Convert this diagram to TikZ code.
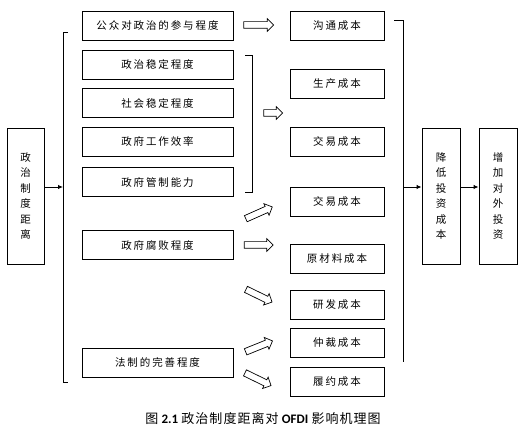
\documentclass[tikz,border=0pt]{standalone}
\usepackage{fontspec}
\setmainfont{Liberation Serif}
\newfontfamily\cjk[LetterSpace=18]{Noto Sans CJK SC}
\newfontfamily\cjkv{Noto Sans CJK SC}
\newfontfamily\cjkcap[LetterSpace=8]{Noto Sans CJK SC}
\newfontfamily\capl{Carlito}
\usetikzlibrary{shapes.arrows,arrows.meta}
\begin{document}
\begin{tikzpicture}[x=1pt,y=-1pt,
  box/.style={draw,line width=0.9pt,inner sep=0pt,font=\cjk\fontsize{10.5}{12}\selectfont},
  lbox/.style={box,minimum width=151pt,minimum height=29pt},
  mbox/.style={box,minimum width=94pt,minimum height=29pt},
  vbox/.style={draw,line width=0.9pt,inner sep=0pt,minimum width=37pt,minimum height=136pt,align=center,font=\cjkv\fontsize{10.5}{15.5}\selectfont},
  hol/.style={single arrow,draw,line width=0.7pt,fill=white,inner sep=3pt,minimum width=0pt,single arrow head extend=3pt,single arrow head indent=0pt},
  brk/.style={line width=0.9pt},
  arr/.style={line width=0.9pt,-{Latex[length=5pt,width=4.5pt]}}]
\useasboundingbox (0,0) rectangle (531,435);
\fill[white] (0,0) rectangle (531,435);
% left vertical box
\node[vbox] (L) at (25.5,196) {政\\治\\制\\度\\距\\离};
% left boxes
\node[lbox] (p1) at (157.5,25.5) {公众对政治的参与程度};
\node[lbox] (p2) at (157.5,64.5) {政治稳定程度};
\node[lbox] (p3) at (157.5,103) {社会稳定程度};
\node[lbox] (p4) at (157.5,141.5) {政府工作效率};
\node[lbox] (p5) at (157.5,182) {政府管制能力};
\node[lbox] (p6) at (157.5,245) {政府腐败程度};
\node[lbox] (p7) at (157.5,362.5) {法制的完善程度};
% middle boxes
\node[mbox] (m1) at (337,25.5) {沟通成本};
\node[mbox] (m2) at (337,83.5) {生产成本};
\node[mbox] (m3) at (337,141.5) {交易成本};
\node[mbox] (m4) at (337,201.5) {交易成本};
\node[mbox] (m5) at (337,258.5) {原材料成本};
\node[mbox] (m6) at (337,304.5) {研发成本};
\node[mbox] (m7) at (337,342.5) {仲裁成本};
\node[mbox] (m8) at (337,382) {履约成本};
% right boxes
\node[vbox,minimum width=38pt] (R1) at (441,196) {降\\低\\投\\资\\成\\本};
\node[vbox,minimum width=38pt] (R2) at (498,196) {增\\加\\对\\外\\投\\资};
% left bracket
\coordinate (b1a) at (68,32);
\coordinate (b1b) at (63,32);
\coordinate (b1c) at (63,382);
\coordinate (b1d) at (68,382);
\coordinate (b1m) at (63,187);
\draw[brk] (b1a) -- (b1b) -- (b1c) -- (b1d);
\draw[arr] (L.east |- b1m) -- (b1m);
% middle bracket
\coordinate (b2a) at (245,55);
\coordinate (b2b) at (252,55);
\coordinate (b2c) at (252,192);
\coordinate (b2d) at (245,192);
\draw[brk] (b2a) -- (b2b) -- (b2c) -- (b2d);
% right bracket
\coordinate (b3a) at (394,20);
\coordinate (b3b) at (403,20);
\coordinate (b3c) at (403,362);
\coordinate (b3m) at (403,187);
\draw[brk] (b3a) -- (b3b) -- (b3c);
\draw[arr] (b3m) -- (R1.west |- b3m);
\draw[arr] (R1.east |- b3m) -- (R2.west |- b3m);
% hollow arrows
\node[hol,minimum height=30pt] (a1) at (257,25) {};
\node[hol,minimum height=19pt] (a2) at (271.5,113) {};
\node[hol,minimum height=29pt,rotate=24] (a3) at (257.5,213.5) {};
\node[hol,minimum height=29pt] (a4) at (257,245) {};
\node[hol,minimum height=29pt,rotate=-26] (a5) at (257.5,295) {};
\node[hol,minimum height=29pt,rotate=22] (a6) at (257.5,347) {};
\node[hol,minimum height=29pt,rotate=-26] (a7) at (256.5,378.5) {};
% caption
\node[inner sep=0pt,font=\fontsize{13}{15}\selectfont] (cap) at (263,419)
  {{\cjkcap 图} {\capl\bfseries 2.1} {\cjkcap 政治制度距离对} {\capl\bfseries OFDI} {\cjkcap 影响机理图}};
\end{tikzpicture}
\end{document}
